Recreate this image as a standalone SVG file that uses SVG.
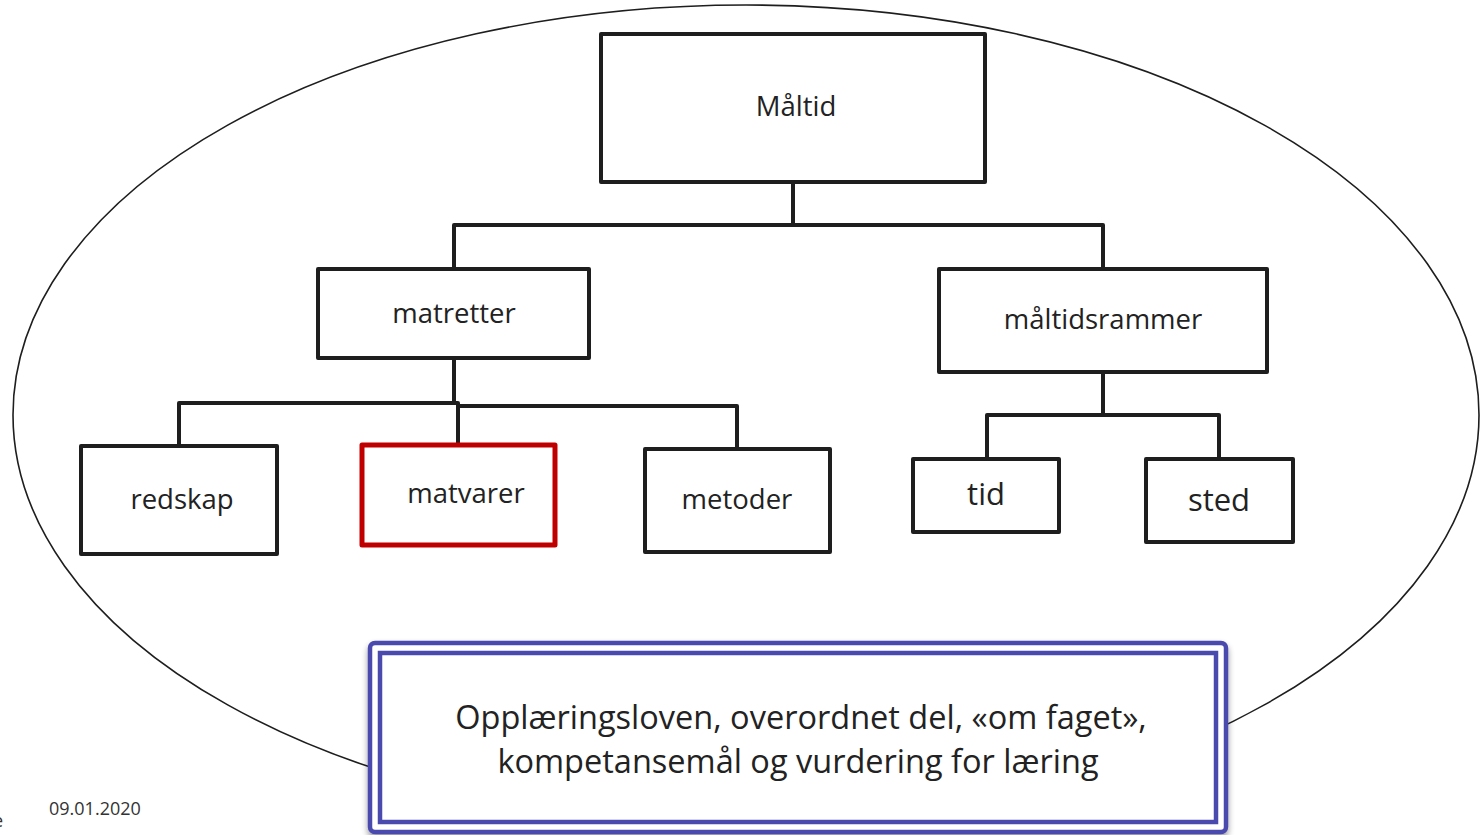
<svg xmlns="http://www.w3.org/2000/svg" width="1480" height="835" viewBox="0 0 1480 835">
<style>
.box{fill:#fff;stroke:#1e1e1e;stroke-width:4;stroke-linejoin:round}
.red{fill:#fff;stroke:#C00000;stroke-width:5;stroke-linejoin:round}
.con{fill:none;stroke:#1e1e1e;stroke-width:4;stroke-linejoin:round}
.lbl{font-family:"Open Sans","Liberation Sans",sans-serif;font-size:27.5px;fill:#222;text-anchor:middle}
.big{font-size:31px}
.foot{font-family:"Open Sans","Liberation Sans",sans-serif;font-size:18px;fill:#333}
</style>
<defs>
<filter id="sh" x="-5%" y="-10%" width="110%" height="125%">
<feGaussianBlur in="SourceAlpha" stdDeviation="3"/>
<feOffset dx="0" dy="4"/>
<feComponentTransfer><feFuncA type="linear" slope="0.4"/></feComponentTransfer>
<feMerge><feMergeNode/><feMergeNode in="SourceGraphic"/></feMerge>
</filter>
</defs>
<rect width="1480" height="835" fill="#fff"/>
<ellipse id="frame" cx="746" cy="415" rx="733" ry="410" fill="none" stroke="#1e1e1e" stroke-width="1.6"/>
<g id="connectors">
<path class="con" d="M793 182 V225 M454 269 V225 H1103 V269"/>
<path class="con" d="M454 358 V404 M179 446 V403 H458 V406 H737 V449 M458 404 V445"/>
<path class="con" d="M1103 372 V415 M987 459 V415 H1219 V459"/>
</g>
<g id="n-maltid"><rect class="box" x="601" y="34" width="384" height="148"/><text class="lbl" x="796" y="116">Måltid</text></g>
<g id="n-matretter"><rect class="box" x="318" y="269" width="271" height="89"/><text class="lbl" x="454" y="323">matretter</text></g>
<g id="n-maltidsrammer"><rect class="box" x="939" y="269" width="328" height="103"/><text class="lbl" x="1103" y="329">måltidsrammer</text></g>
<g id="n-redskap"><rect class="box" x="81" y="446" width="196" height="108"/><text class="lbl" x="182" y="509">redskap</text></g>
<g id="n-matvarer"><rect class="red" x="362" y="445" width="193" height="100"/><text class="lbl" x="466" y="503">matvarer</text></g>
<g id="n-metoder"><rect class="box" x="645" y="449" width="185" height="103"/><text class="lbl" x="737" y="509">metoder</text></g>
<g id="n-tid"><rect class="box" x="913" y="459" width="146" height="73"/><text class="lbl big" x="986" y="505">tid</text></g>
<g id="n-sted"><rect class="box" x="1146" y="459" width="147" height="83"/><text class="lbl big" x="1219" y="511">sted</text></g>
<g id="n-laws">
<rect x="370" y="643" width="856" height="189" rx="5" fill="#fff" stroke="#4A4AAE" stroke-width="4.5" filter="url(#sh)"/>
<rect x="380" y="653" width="836" height="169" fill="none" stroke="#4A4AAE" stroke-width="4.5"/>
<text class="lbl" style="font-size:32.5px" x="801" y="729">Opplæringsloven, overordnet del, «om faget»,</text>
<text class="lbl" style="font-size:32.5px" x="798" y="773">kompetansemål og vurdering for læring</text>
</g>
<text class="foot" x="49" y="815">09.01.2020</text>
<text class="foot" x="-7" y="827">e</text>
</svg>
